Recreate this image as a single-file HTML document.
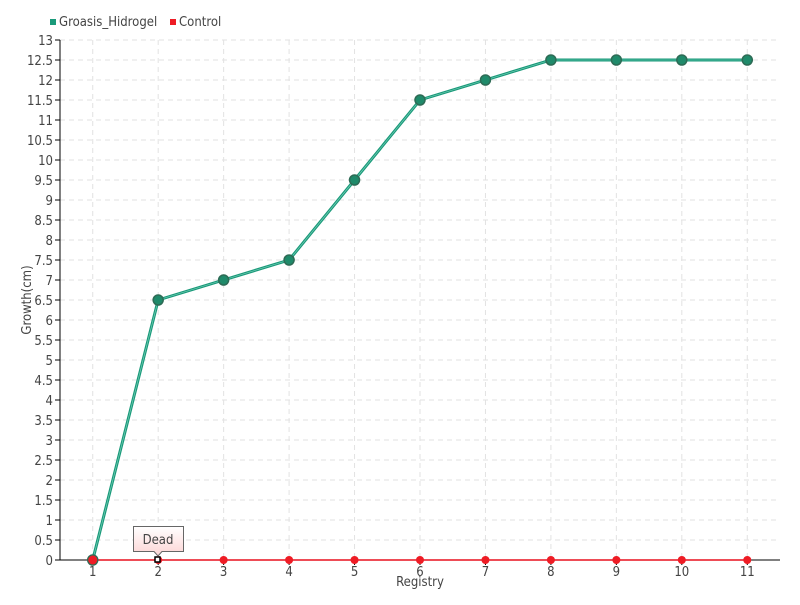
<!DOCTYPE html>
<html><head><meta charset="utf-8"><style>
body{margin:0;background:#fff;}
svg text{font-family:"DejaVu Sans Condensed","Liberation Sans",sans-serif;fill:#444;}
</style></head><body>
<svg id="c" width="800" height="600" xmlns="http://www.w3.org/2000/svg"></svg>
<script>
var s='';
var X0=60,X1=780,Y0=560,pw=720/11;
function xi(i){return X0+pw/2+pw*i;}
function y(v){return Y0-40*v;}
// grid
for(var k=1;k<=26;k++){var yy=y(k/2);s+='<line x1="60" x2="780" y1="'+yy+'" y2="'+yy+'" stroke="#e2e2e2" stroke-dasharray="5,4"/>';}
for(var i=0;i<11;i++){var xx=xi(i);s+='<line x1="'+xx+'" x2="'+xx+'" y1="40" y2="560" stroke="#e2e2e2" stroke-dasharray="5,4"/>';}
// axes
s+='<line x1="60" x2="60" y1="40" y2="560" stroke="#000"/>';
s+='<line x1="60" x2="780" y1="560" y2="560" stroke="#000"/>';
for(var k=0;k<=26;k++){var yy=y(k/2);s+='<line x1="55" x2="60" y1="'+yy+'" y2="'+yy+'" stroke="#000"/>';
s+='<text x="53" y="'+(yy+5)+'" font-size="13" text-anchor="end">'+(k/2)+'</text>';}
for(var i=0;i<11;i++){var xx=xi(i);s+='<line x1="'+xx+'" x2="'+xx+'" y1="560" y2="565" stroke="#000"/>';
s+='<text x="'+xx+'" y="576" font-size="13" text-anchor="middle">'+(i+1)+'</text>';}
s+='<text x="420" y="586" font-size="13" text-anchor="middle">Registry</text>';
s+='<text transform="translate(31,300) rotate(-90)" font-size="13" text-anchor="middle">Growth(cm)</text>';
// control
s+='<line x1="'+xi(0)+'" x2="'+xi(10)+'" y1="560" y2="560" stroke="#e8101e" stroke-width="1.5"/>';
for(var i=0;i<11;i++)s+='<circle cx="'+xi(i)+'" cy="560" r="4" fill="#ee1c25"/>';
// green
var g=[0,6.5,7,7.5,9.5,11.5,12,12.5,12.5,12.5,12.5];
var p=g.map(function(v,i){return xi(i)+','+y(v);}).join(' ');
s+='<polyline points="'+p+'" fill="none" stroke="#1a9a7a" stroke-width="3"/>';
s+='<polyline points="'+p+'" fill="none" stroke="#7fd3bd" stroke-width="0.6"/>';
for(var i=0;i<11;i++)s+='<circle cx="'+xi(i)+'" cy="'+y(g[i])+'" r="5" fill="#1f8a6a" stroke="#2d6b55" stroke-width="1.5"/>';
s+='<circle cx="'+xi(0)+'" cy="560" r="4.5" fill="#ee1c25"/>';
s+='<rect x="155" y="557" width="5" height="5" fill="#fff" stroke="#000" stroke-width="1.5"/>';
// tooltip
s+='<defs><linearGradient id="tg" x1="0" y1="0" x2="0" y2="1"><stop offset="0" stop-color="#fff"/><stop offset="1" stop-color="#fcd4d4"/></linearGradient></defs>';
s+='<path d="M133.5,526.5 H183.5 V551.5 H162 L158,556 L154,551.5 H133.5 Z" fill="url(#tg)" stroke="#666"/>';
s+='<text x="158" y="544" font-size="13" text-anchor="middle">Dead</text>';
// legend
s+='<rect x="50" y="19" width="6" height="6" fill="#1a9a7a"/>';
s+='<text x="59" y="26" font-size="13">Groasis_Hidrogel</text>';
s+='<rect x="170" y="19" width="6" height="6" fill="#ee1c25"/>';
s+='<text x="179" y="26" font-size="13">Control</text>';
document.getElementById('c').innerHTML=s;
</script>
</body></html>
